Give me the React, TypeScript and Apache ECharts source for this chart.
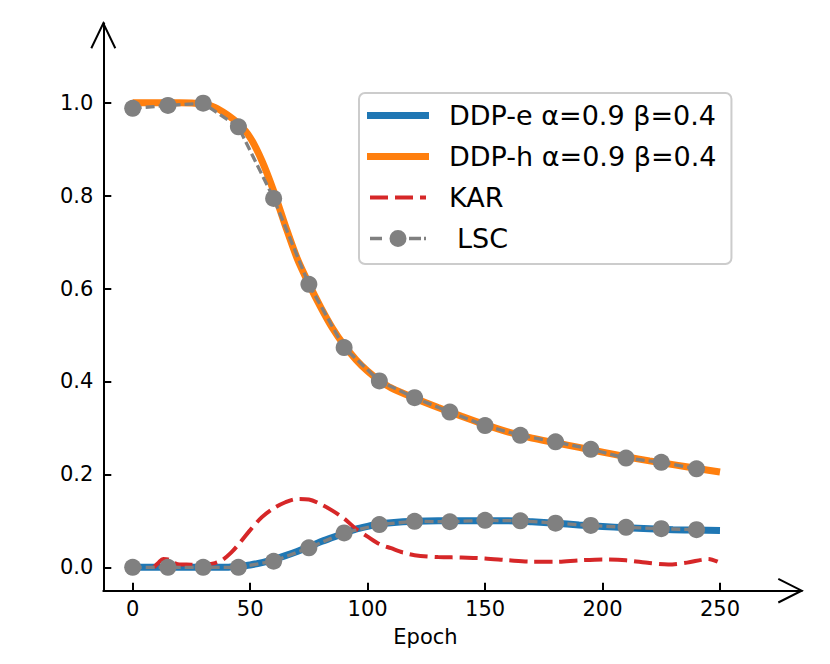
import React, { useEffect, useRef } from 'react';
import * as echarts from 'echarts';

const X_TICKS = [0, 50, 100, 150, 200, 250];
const Y_TICKS = [0, 0.2, 0.4, 0.6, 0.8, 1.0];

const DDP_EPOCHS = [0, 10, 20, 30, 35, 40, 45, 50, 55, 60, 65, 70, 75, 80, 85, 90, 95, 100, 105, 110, 120, 130, 140, 150, 160, 170, 180, 190, 200, 210, 220, 230, 240, 250];
const DDP_E = [0, 0, 0, 0, 0, 0, 0.002, 0.005, 0.01, 0.017, 0.025, 0.034, 0.044, 0.055, 0.064, 0.073, 0.082, 0.088, 0.093, 0.096, 0.099, 0.1, 0.1, 0.1, 0.1, 0.098, 0.095, 0.091, 0.088, 0.085, 0.083, 0.081, 0.08, 0.079];
const DDP_H = [1.0, 1.0, 1.0, 0.997, 0.99, 0.975, 0.955, 0.925, 0.875, 0.81, 0.735, 0.665, 0.61, 0.56, 0.515, 0.478, 0.447, 0.422, 0.402, 0.386, 0.364, 0.344, 0.325, 0.307, 0.291, 0.278, 0.268, 0.258, 0.248, 0.238, 0.229, 0.221, 0.213, 0.205];

const KAR_EPOCHS = [9, 11, 13, 15, 17, 20, 23, 27, 31, 35, 38, 42, 46, 50, 55, 60, 65, 70, 75, 80, 85, 90, 95, 100, 105, 110, 115, 120, 130, 140, 150, 160, 170, 180, 190, 200, 210, 220, 228, 236, 242, 245, 249];
const KAR = [0, 0.01, 0.018, 0.017, 0.011, 0.006, 0.006, 0.005, 0.006, 0.009, 0.015, 0.032, 0.055, 0.08, 0.108, 0.127, 0.14, 0.147, 0.146, 0.136, 0.122, 0.105, 0.083, 0.066, 0.05, 0.041, 0.032, 0.026, 0.022, 0.021, 0.019, 0.015, 0.012, 0.012, 0.015, 0.017, 0.015, 0.009, 0.006, 0.01, 0.016, 0.018, 0.012];

const LSC_EPOCHS = [0, 15, 30, 45, 60, 75, 90, 105, 120, 135, 150, 165, 180, 195, 210, 225, 240];
const LSC_HIGH = [0.988, 0.994, 0.999, 0.948, 0.794, 0.609, 0.473, 0.401, 0.365, 0.334, 0.305, 0.284, 0.27, 0.254, 0.235, 0.226, 0.212];
const LSC_LOW = [0, 0, 0, 0, 0.013, 0.042, 0.074, 0.092, 0.099, 0.098, 0.101, 0.1, 0.095, 0.09, 0.086, 0.083, 0.081];

const NAME_E = 'DDP-e α=0.9 β=0.4';
const NAME_H = 'DDP-h α=0.9 β=0.4';
const NAME_KAR = 'KAR';
const NAME_LSC = 'LSC';

const BLUE = '#1f77b4';
const ORANGE = '#ff7f0e';
const RED = '#d62728';
const GRAY = '#808080';
const FONT = 'DejaVu Sans';

const ICON_SOLID = 'path://M0,0H62V7H0Z';
const ICON_DASH = 'path://M0,1.99H0.02V2.01H0Z M3,0H21V4H3Z M28,0H46V4H28Z M53,0H59V4H53Z M61.98,1.99H62V2.01H61.98Z';
const ICON_LSC = 'path://M0,8.49H0.02V8.51H0Z M3,6.75H15V10.25H3Z M42,6.75H54V10.25H42Z M57,6.75H59V10.25H57Z M39.5,8.5A8.5,8.5,0,1,1,22.5,8.5A8.5,8.5,0,1,1,39.5,8.5Z M61.98,8.49H62V8.51H61.98Z';

const zip = (xs: number[], ys: number[]) => xs.map((x, i) => [x, ys[i]]);

export default function App() {
  const ref = useRef<HTMLDivElement>(null);
  useEffect(() => {
    if (!ref.current) return;
    const chart = echarts.init(ref.current, null, { renderer: 'svg' });
    const axisLabelStyle = { fontSize: 21, color: '#000', fontFamily: FONT };
    chart.setOption({
      animation: false,
      textStyle: { fontFamily: FONT },
      grid: { left: 103.3, right: 28.3, top: 23.3, bottom: 73.3, containLabel: false, outerBoundsMode: 'none' },
      xAxis: {
        type: 'value',
        min: -12.51,
        max: 284.78,
        splitLine: { show: false },
        axisLine: { show: true, onZero: false, lineStyle: { color: '#000', width: 2 } },
        axisTick: { show: true, inside: true, length: 8, lineStyle: { color: '#000', width: 2 }, customValues: X_TICKS },
        axisLabel: { ...axisLabelStyle, margin: 8, customValues: X_TICKS },
        name: 'Epoch',
        nameLocation: 'middle',
        nameGap: 36,
        nameTextStyle: { fontSize: 21, color: '#000', fontFamily: FONT, padding: [0, 54, 0, 0] },
      },
      yAxis: {
        type: 'value',
        min: -0.0504,
        max: 1.1709,
        splitLine: { show: false },
        axisLine: { show: true, onZero: false, lineStyle: { color: '#000', width: 2 } },
        axisTick: { show: true, inside: true, length: 8, lineStyle: { color: '#000', width: 2 }, customValues: Y_TICKS },
        axisLabel: { ...axisLabelStyle, margin: 10, customValues: Y_TICKS, formatter: (v: number) => v.toFixed(1) },
      },
      legend: {
        orient: 'vertical',
        left: 359,
        top: 93,
        padding: [9, 15, 12, 8],
        itemWidth: 62,
        itemHeight: 20,
        itemGap: 14,
        backgroundColor: 'rgba(255,255,255,0.8)',
        borderColor: '#cccccc',
        borderWidth: 2,
        borderRadius: 6,
        textStyle: { fontSize: 27, lineHeight: 27, color: '#000', fontFamily: FONT, padding: [0, 0, 0, 15] },
        data: [
          { name: NAME_E, icon: ICON_SOLID, itemStyle: { color: BLUE, borderWidth: 0 } },
          { name: NAME_H, icon: ICON_SOLID, itemStyle: { color: ORANGE, borderWidth: 0 } },
          { name: NAME_KAR, icon: ICON_DASH, itemStyle: { color: RED, borderWidth: 0 } },
          { name: NAME_LSC, icon: ICON_LSC, itemStyle: { color: GRAY, borderWidth: 0 }, textStyle: { padding: [0, 0, 0, 23] } },
        ],
      },
      series: [
        {
          name: NAME_E,
          type: 'line',
          data: zip(DDP_EPOCHS, DDP_E),
          smooth: 0.3,
          showSymbol: false,
          color: BLUE,
          lineStyle: { color: BLUE, width: 7 },
        },
        {
          name: NAME_H,
          type: 'line',
          data: zip(DDP_EPOCHS, DDP_H),
          smooth: 0.3,
          showSymbol: false,
          color: ORANGE,
          lineStyle: { color: ORANGE, width: 7 },
        },
        {
          name: NAME_KAR,
          type: 'line',
          data: zip(KAR_EPOCHS, KAR),
          smooth: 0.3,
          showSymbol: false,
          color: RED,
          lineStyle: { color: RED, width: 4, type: [18, 7] },
        },
        {
          name: NAME_LSC,
          type: 'line',
          data: zip(LSC_EPOCHS, LSC_HIGH),
          symbol: 'circle',
          symbolSize: 17,
          color: GRAY,
          itemStyle: { color: GRAY, borderWidth: 0 },
          lineStyle: { color: GRAY, width: 3.3, type: [9, 4] },
        },
        {
          name: NAME_LSC,
          type: 'line',
          data: zip(LSC_EPOCHS, LSC_LOW),
          symbol: 'circle',
          symbolSize: 17,
          color: GRAY,
          itemStyle: { color: GRAY, borderWidth: 0 },
          lineStyle: { color: GRAY, width: 3.3, type: [9, 4] },
        },
      ],
      graphic: [
        {
          type: 'polyline',
          shape: { points: [[91.3, 48.3], [103.3, 23.3], [115.3, 48.3]] },
          style: { stroke: '#000', lineWidth: 2, fill: 'none' },
          silent: true,
        },
        {
          type: 'polyline',
          shape: { points: [[778.3, 578.9], [801.7, 590.7], [778.3, 602.5]] },
          style: { stroke: '#000', lineWidth: 2, fill: 'none' },
          silent: true,
        },
      ],
    });
    return () => chart.dispose();
  }, []);
  return <div ref={ref} style={{ position: 'fixed', left: 0, top: 0, width: 830, height: 664, background: '#fff' }} />;
}
